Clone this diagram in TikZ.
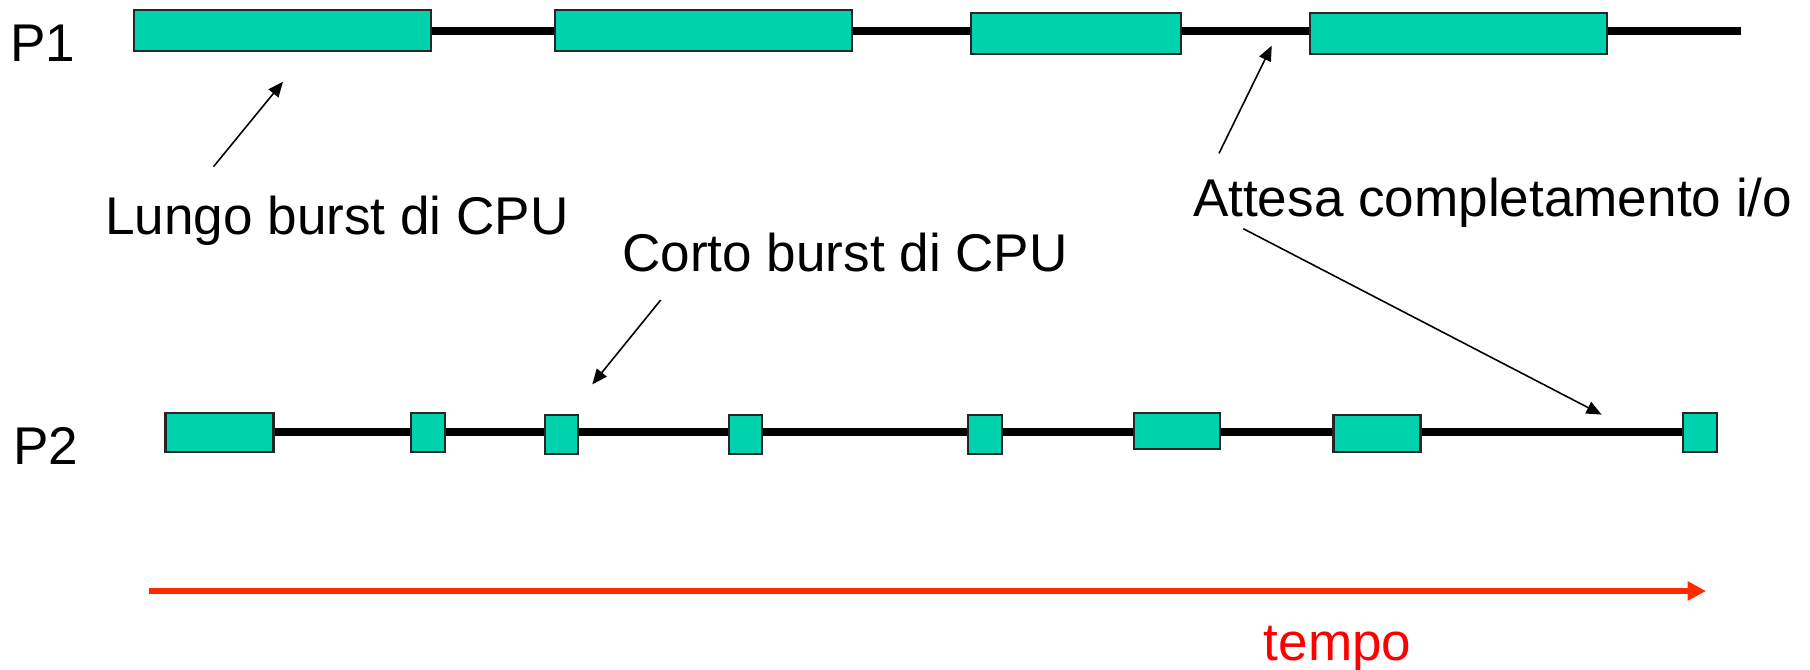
\documentclass[tikz,border=0pt]{standalone}
\usepackage{fontspec}
\setmainfont{Liberation Sans}
\usepackage{xcolor}
\usepackage{tikz}
\usetikzlibrary{arrows.meta}
\definecolor{cputeal}{HTML}{00D2AD}
\definecolor{timered}{HTML}{FF2A00}
\definecolor{labelred}{HTML}{FF0000}
\tikzset{
  burst/.style={draw=black!85, line width=0.65pt, fill=cputeal, inner sep=0pt,
    minimum width=#1, minimum height=0.41cm},
  shortburst/.style={burst=#1, minimum height=0.39cm},
  timeline/.style={line width=2.3pt, draw=black},
  pointer/.style={-{Triangle[length=4.3pt, width=3.6pt]}, line width=0.45pt, draw=black},
  timearrow/.style={-{Triangle[length=5.2pt, width=5.2pt]}, line width=1.5pt, draw=timered},
  note/.style={inner sep=0pt, anchor=base, font=\fontsize{15.1pt}{18pt}\selectfont}
}

\begin{document}
\begin{tikzpicture}[x=0.01cm, y=-0.01cm]
    \useasboundingbox (0,0) rectangle (1810,669);
    \node[burst=2.97cm] (p1a) at (282.5,30.8) {};
    \node[burst=2.97cm] (p1b) at (703.5,30.8) {};
    \node[burst=2.10cm] (p1c) at (1075.8,33.5) {};
    \node[burst=2.97cm] (p1d) at (1458.5,33.5) {};
    \coordinate (p1end) at (1740.7,30.8);
    \foreach \a/\b in {p1a/p1b,p1b/p1c,p1c/p1d}
        \draw[timeline] (\a.east |- p1a) -- (\b.west |- p1a);
    \draw[timeline] (p1d.east |- p1a) -- (p1end);
    \node[shortburst=1.08cm] (p2a) at (219.6,432.4) {};
    \node[shortburst=0.34cm] (p2b) at (427.8,432.4) {};
    \node[shortburst=0.33cm] (p2c) at (561.4,434.5) {};
    \node[shortburst=0.33cm] (p2d) at (745.5,434.5) {};
    \node[shortburst=0.34cm] (p2e) at (985.2,434.5) {};
    \node[shortburst=0.86cm, minimum height=0.36cm] (p2f) at (1177,431) {};
    \node[shortburst=0.87cm, minimum height=0.37cm] (p2g) at (1377,433.4) {};
    \node[shortburst=0.34cm] (p2h) at (1699.8,432.4) {};
    \foreach \a/\b in {p2a/p2b,p2b/p2c,p2c/p2d,p2d/p2e,p2e/p2f,p2f/p2g,p2g/p2h}
        \draw[timeline] (\a.east |- p2a) -- (\b.west |- p2a);
    \node[note] (p1lab) at (43,61.7) {P1};
    \node[note] (p2lab) at (46,464) {P2};
    \node[note] (lungo) at (337,234) {Lungo burst di CPU};
    \node[note] (corto) at (845,271.7) {Corto burst di CPU};
    \node[note] (attesa) at (1492.6,216.7) {Attesa completamento i/o};
    \node[note, text=labelred] (tempo) at (1337.5,660) {tempo};
    \coordinate (lungotail) at (213.5,166.7);
    \coordinate (lungotip) at (283,81.7);
    \coordinate (cortotail) at (660.7,300);
    \coordinate (cortotip) at (592.3,384.3);
    \coordinate (attesatail) at (1219,153.3);
    \coordinate (attesatip) at (1271.7,45.7);
    \coordinate (waittail) at (1243.3,228.7);
    \coordinate (waittip) at (1601.6,414.6);
    \draw[pointer] (lungotail) -- (lungotip);
    \draw[pointer] (cortotail) -- (cortotip);
    \draw[pointer] (attesatail) -- (attesatip);
    \draw[pointer] (waittail) -- (waittip);
    \coordinate (tstart) at (149,591);
    \coordinate (tend) at (1706,591);
    \draw[timearrow] (tstart) -- (tend);
\end{tikzpicture}
\end{document}
